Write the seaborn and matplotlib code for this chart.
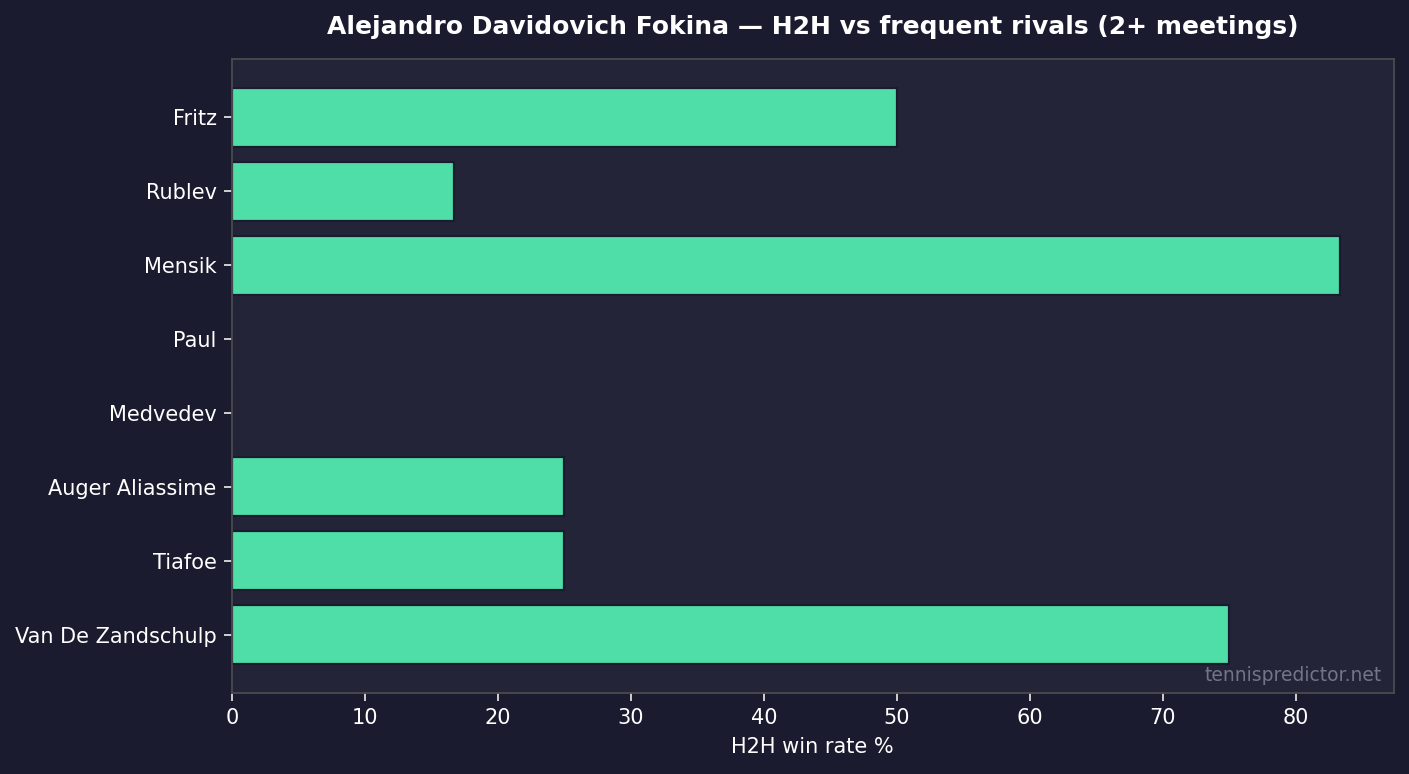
import matplotlib
matplotlib.use("Agg")
import matplotlib.pyplot as plt
import seaborn as sns
import pandas as pd

rivals = ["Fritz", "Rublev", "Mensik", "Paul", "Medvedev", "Auger Aliassime", "Tiafoe", "Van De Zandschulp"]
win_rate = [50.0, 16.67, 83.33, 0.0, 0.0, 25.0, 25.0, 75.0]

BG = "#1a1b2e"
AX = "#232438"
BAR = "#4fdea8"

sns.set_theme(style="dark")
plt.rcParams["font.family"] = ["DejaVu Sans"]

df = pd.DataFrame({"rival": rivals, "rate": win_rate})

fig = plt.figure(figsize=(14.09, 7.74), dpi=100, facecolor=BG)
ax = fig.add_axes([232/1409, 1 - 693/774, (1393.5-232)/1409, (693-59)/774])
ax.set_facecolor(AX)
sns.barplot(data=df, x="rate", y="rival", orient="h", color=BAR, saturation=1,
            width=0.8, edgecolor=BG, linewidth=1.6, ax=ax)
ax.set_xlim(0, 87.35)
ax.set_ylim(7.79, -0.79)
for s in ax.spines.values():
    s.set_color("#4a4a50")
    s.set_linewidth(1.3)
    s.set_visible(True)
ax.tick_params(colors="white", labelsize=15, length=6, width=1.3, left=True, bottom=True, pad=5)
ax.tick_params(axis="both", color="#dddddd")
ax.set_ylabel("")
ax.set_xlabel("H2H win rate %", color="white", fontsize=15, labelpad=6)
ax.grid(False)
ax.set_title("Alejandro Davidovich Fokina — H2H vs frequent rivals (2+ meetings)",
             color="white", fontsize=18, fontweight="bold", pad=18)
ax.text(0.99, 0.012, "tennispredictor.net", transform=ax.transAxes, ha="right", va="bottom",
        color="#737484", fontsize=13.5)
fig.savefig("out.png", dpi=100, facecolor=BG)
